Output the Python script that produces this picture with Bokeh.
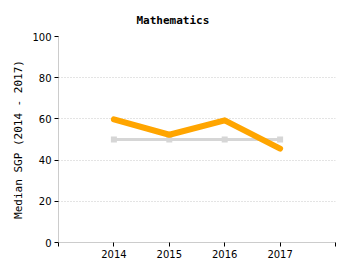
from bokeh.plotting import figure
from bokeh.models import FixedTicker, Range1d
from bokeh.embed import file_html
from bokeh.resources import INLINE

years = [2014, 2015, 2016, 2017]
sgp = [59.8, 52.3, 59.3, 45.6]
median_ref = [50, 50, 50, 50]
x_ticks = [2013, 2014, 2015, 2016, 2017, 2018]
x_tick_labels = ["", "2014", "2015", "2016", "2017", ""]
y_ticks = [0, 20, 40, 60, 80, 100]

p = figure(width=350, height=275, frame_width=277, frame_height=206,
           output_backend="svg", toolbar_location=None,
           x_range=Range1d(2013, 2018), y_range=Range1d(0, 100),
           min_border_left=58, min_border_right=15, min_border_top=36, min_border_bottom=33)
p.title.text = "Mathematics"
p.title.align = "left"
p.title.offset = 78
p.title.standoff = 19
p.title.text_font = "DejaVu Sans Mono"
p.title.text_font_size = "11px"
p.title.text_font_style = "bold"
p.title.text_color = "#000000"
p.outline_line_color = None
p.background_fill_color = "white"
p.border_fill_color = "white"

p.line(years, median_ref, line_color="#d6d6d6", line_width=3)
p.scatter(years, median_ref, marker="square", size=6, fill_color="#d6d6d6", line_color=None)
p.line(years, sgp, line_color="#FFA500", line_width=6, line_join="round", line_cap="round")

p.xaxis.ticker = FixedTicker(ticks=x_ticks)
p.xaxis.major_label_overrides = {t: l for t, l in zip(x_ticks, x_tick_labels)}
p.yaxis.ticker = FixedTicker(ticks=y_ticks)
for ax in (p.xaxis, p.yaxis):
    ax.axis_line_color = "#cccccc"
    ax.major_tick_line_color = "#000000"
    ax.major_tick_out = 4
    ax.major_tick_in = 0
    ax.minor_tick_line_color = None
    ax.major_label_text_font = "DejaVu Sans"
    ax.major_label_text_font_size = "10px"
    ax.major_label_text_color = "#000000"
    ax.major_label_standoff = 3

p.yaxis.axis_label = "Median SGP (2014 - 2017)"
p.yaxis.axis_label_text_font = "DejaVu Sans Mono"
p.yaxis.axis_label_text_font_size = "11px"
p.yaxis.axis_label_text_font_style = "normal"
p.yaxis.axis_label_text_color = "#000000"
p.yaxis.axis_label_standoff = 4

p.xgrid.grid_line_color = None
p.ygrid.grid_line_color = "#c8c8c8"
p.ygrid.grid_line_dash = "1 2"
p.ygrid.grid_line_width = 1

open("out.html", "w").write(file_html(p, INLINE))
